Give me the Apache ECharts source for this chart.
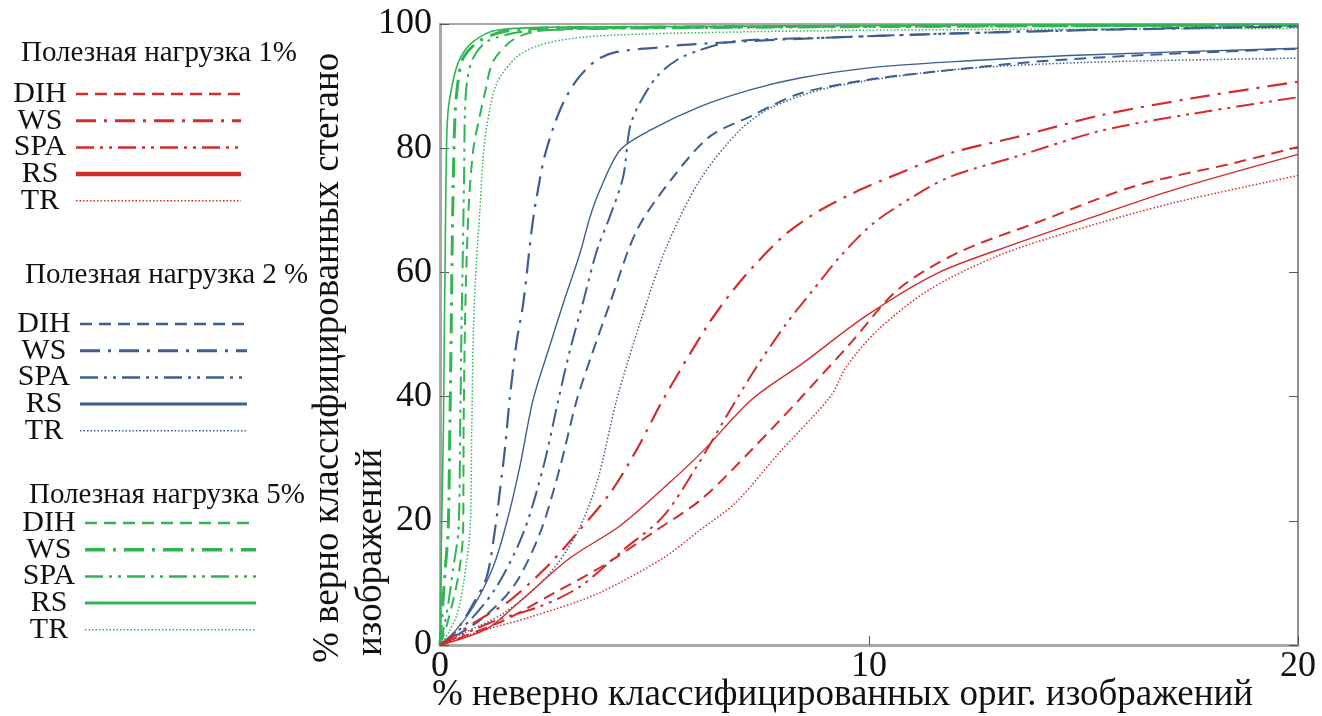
<!DOCTYPE html>
<html>
<head>
<meta charset="utf-8">
<script src="https://cdn.jsdelivr.net/npm/echarts@6/dist/echarts.min.js"></script>
<style>
html,body{margin:0;padding:0;background:#fff;}
#chart{width:1322px;height:716px;}
</style>
</head>
<body>
<div id="chart"></div>
<script>
// ---------- data ----------
const groupTitles = ['Полезная нагрузка 1%', 'Полезная нагрузка 2 %', 'Полезная нагрузка 5%'];
const methods = ['DIH', 'WS', 'SPA', 'RS', 'TR'];
const groupKeys = ['1%', '2%', '5%'];
const xAxisTitle = '% неверно классифицированных ориг. изображений';
const yAxisTitle = ['% верно классифицированных стегано', 'изображений'];
const xRange = [0, 20, 10];   // min, max, interval
const yRange = [0, 100, 20];

// payload 1% (red)
const red_DIH = [[0,0],[1.47,3.9],[2.64,8.3],[3.81,12.8],[5.05,18.5],[6.1,23.5],[7.26,31.4],[8.37,39.5],[9.57,48.6],[10.67,57.2],[12.05,63.1],[13.9,68],[16.2,73.9],[18.5,77.6],[20,80.2]];
const red_WS = [[0,0],[0.78,3.5],[1.63,7.2],[2.49,12.6],[3.19,18],[3.96,24.4],[4.58,31.4],[5.2,39.5],[6.22,51.3],[6.84,57.2],[7.38,61.5],[8.08,66.3],[8.86,70],[9.79,73.3],[10.72,76],[11.89,79.2],[13.45,81.8],[15.4,85.3],[17.5,88],[20,90.7]];
const red_SPA = [[0,0],[1.32,4],[2.33,6.2],[3.26,9.4],[4.27,15.3],[5.2,20.7],[5.98,28.7],[6.76,37.8],[7.4,45],[8.08,51.8],[8.7,57.2],[9.32,62.5],[10.1,67.9],[11.03,72.2],[11.89,75.4],[13.5,78.8],[15.4,82.8],[17.5,85.5],[20,88.2]];
const red_RS = [[0,0],[1.09,2.6],[1.86,7],[3.03,14],[4.2,19.2],[5.36,26.2],[6.14,31.3],[7.26,39.5],[8.46,45.4],[9.93,53],[11.6,59.9],[13.45,64.7],[15.3,69.1],[17.1,73.3],[20,79]];
const red_TR = [[0,0],[0.93,2.2],[2.1,4.5],[3.65,8.2],[5.2,14],[6.06,18.5],[6.89,22.9],[7.9,30.9],[9.11,40.1],[9.48,44.9],[10.2,50.7],[11.4,57.2],[12.98,62.6],[14.8,66.8],[17.1,71.2],[20,75.6]];

// payload 2% (blue)
const blue_DIH = [[0,0],[0.93,4],[1.71,9.4],[2.33,18],[2.8,28.7],[3.19,39.5],[3.55,47],[3.96,55],[4.59,66.8],[5.44,75.4],[6.29,81.9],[7.23,85.1],[8.39,88.8],[9.95,91],[11.5,92.3],[14,94],[17,95.2],[20,96]];
const blue_WS = [[0,0],[0.39,2.4],[0.78,6.7],[1.09,11],[1.28,18.5],[1.4,25],[1.52,32],[1.63,40],[1.79,49],[1.94,55],[2.14,67],[2.25,72],[2.45,79],[2.8,86.2],[3.19,91],[3.65,94.2],[4.12,95.5],[5.05,96.2],[5.6,96.6],[8,97.5],[10.7,98.2],[15,99],[20,99.6]];
const blue_SPA = [[0,0],[0.7,4],[1.32,9.4],[1.94,18],[2.41,28.7],[2.76,39.5],[3.03,47.5],[3.35,55.6],[3.66,63.6],[3.96,69],[4.27,75.4],[4.43,83.5],[4.66,87.3],[5.05,91.5],[5.52,94.2],[6.06,95.8],[6.83,97.2],[9,97.8],[12,98.5],[16,99.2],[20,99.6]];
const blue_RS = [[0,0],[0.31,1.9],[0.78,6.2],[1.24,12.6],[1.55,19.6],[1.86,28.7],[2.17,39.5],[2.55,48],[2.9,55.6],[3.26,63],[3.5,69],[3.73,73.3],[4.2,79.7],[4.9,82.9],[6.06,86.7],[7.23,89.4],[8.39,91.3],[9.95,92.9],[11.9,93.9],[15,95],[20,96.1]];
const blue_TR = [[0,0],[0.54,1.9],[1.48,5.1],[2.49,11],[3.19,18],[3.65,26],[4.12,39.5],[4.66,51.8],[5.28,64.1],[6.06,74.9],[6.99,82.9],[7.77,86.7],[9.17,89.9],[11.9,92.6],[15,93.8],[20,94.5]];

// payload 5% (green)
const green_DIH = [[0,0],[0.15,3],[0.3,7],[0.45,12],[0.54,18.5],[0.55,34.6],[0.58,50.7],[0.62,62],[0.68,72],[0.78,80],[0.93,85.3],[1.05,89],[1.24,94],[1.71,97.5],[2.33,98.9],[4,99.3],[10,99.6],[20,99.8]];
const green_WS = [[0,0],[0.05,5],[0.12,12],[0.19,18.5],[0.23,35],[0.26,50],[0.28,62],[0.31,75],[0.35,85.3],[0.42,90.7],[0.54,94.5],[0.9,97.2],[1.5,98.8],[3,99.4],[20,99.8]];
const green_SPA = [[0,0],[0.1,3],[0.2,7],[0.3,12],[0.43,18.5],[0.47,34.6],[0.5,50.7],[0.53,62],[0.56,75],[0.58,85.3],[0.63,90.7],[0.77,94.5],[1.1,97.2],[2,98.8],[5,99.3],[20,99.8]];
const green_RS = [[0,0],[0.02,10],[0.04,20],[0.08,35],[0.1,50],[0.12,62],[0.14,75],[0.18,85.3],[0.3,90.7],[0.47,94.5],[0.78,97.2],[1.32,99],[3,99.5],[20,100]];
const green_TR = [[0,0],[0.2,2],[0.4,5],[0.55,10],[0.7,18.5],[0.74,34.6],[0.78,50.7],[0.85,62],[0.93,70],[1.0,78],[1.09,83.5],[1.32,90.4],[1.79,94.7],[2.33,96.6],[3.1,97.7],[4.04,98.2],[6,98.6],[10,99],[20,99.3]];

const dataByGroup = [
  [red_DIH, red_WS, red_SPA, red_RS, red_TR],
  [blue_DIH, blue_WS, blue_SPA, blue_RS, blue_TR],
  [green_DIH, green_WS, green_SPA, green_RS, green_TR]
];

// ---------- styles ----------
const FONT = 'Liberation Serif';
const colors = ['#d42b2b', '#3d5e91', '#2fb552'];
const dashes = {
  DIH: [12, 7],
  WS: [20, 8, 3, 8],
  SPA: [18, 6, 3, 6, 3, 6],
  RS: 'solid',
  TR: [1.5, 2]
};
const chartWidths = [
  {DIH: 2, WS: 2.2, SPA: 2, RS: 1.4, TR: 1.5},
  {DIH: 2, WS: 2.2, SPA: 2, RS: 1.4, TR: 1.5},
  {DIH: 2, WS: 3, SPA: 2, RS: 1.6, TR: 1.5}
];
const legendWidths = [
  {DIH: 2.5, WS: 3, SPA: 2.5, RS: 4.5, TR: 1.6},
  {DIH: 2.5, WS: 3, SPA: 2.5, RS: 3, TR: 1.6},
  {DIH: 2.5, WS: 3.5, SPA: 2.5, RS: 3, TR: 1.6}
];
const legendPos = [
  {left: 4, top: 74, w: 165},
  {left: 8, top: 304, w: 167},
  {left: 13, top: 503, w: 171}
];
const titlePos = [
  {left: 16, top: 34},
  {left: 20, top: 256},
  {left: 24, top: 476}
];

const series = [];
const legends = [];
const titles = [];
groupKeys.forEach((g, gi) => {
  const names = [];
  methods.forEach((m, mi) => {
    const name = m + ' ' + g;
    names.push({name: name, lineStyle: {width: legendWidths[gi][m]}});
    series.push({
      name: name,
      type: 'line',
      data: dataByGroup[gi][mi],
      showSymbol: false,
      symbol: 'none',
      smooth: 0.3,
      color: colors[gi],
      lineStyle: {color: colors[gi], width: chartWidths[gi][m], type: dashes[m]},
      z: 3 - gi
    });
  });
  legends.push({
    left: legendPos[gi].left,
    top: legendPos[gi].top,
    orient: 'vertical',
    align: 'right',
    itemWidth: legendPos[gi].w,
    itemHeight: 14,
    itemGap: -3.3,
    selectedMode: false,
    itemStyle: {opacity: 0},
    data: names,
    formatter: n => '{t|' + n.split(' ')[0] + '}',
    textStyle: {
      fontFamily: FONT, fontSize: 30, color: '#111', lineHeight: 26, height: 26,
      rich: {t: {fontFamily: FONT, fontSize: 30, color: '#111', width: 62, align: 'center', lineHeight: 26, height: 26}}
    }
  });
  titles.push({
    text: groupTitles[gi],
    left: titlePos[gi].left,
    top: titlePos[gi].top,
    textStyle: {fontFamily: FONT, fontSize: 29, fontWeight: 'normal', color: '#111'}
  });
});

const chart = echarts.init(document.getElementById('chart'), null, {renderer: 'canvas'});
chart.setOption({
  animation: false,
  backgroundColor: '#fff',
  title: titles,
  legend: legends,
  grid: {left: 440, right: 24, top: 24, bottom: 71, show: true, borderColor: '#8a8a8a', borderWidth: 1.5, containLabel: false},
  xAxis: {
    type: 'value', min: xRange[0], max: xRange[1], interval: xRange[2],
    axisLine: {show: true, onZero: false, lineStyle: {color: '#a8a8a8', width: 3}},
    axisTick: {show: true, inside: true, length: 9, lineStyle: {color: '#555', width: 1}},
    splitLine: {show: false},
    axisLabel: {fontFamily: FONT, fontSize: 36, color: '#111', margin: 4}
  },
  yAxis: [{
    type: 'value', min: yRange[0], max: yRange[1], interval: yRange[2],
    axisLine: {show: true, onZero: false, lineStyle: {color: '#a8a8a8', width: 3}},
    axisTick: {show: true, inside: true, length: 9, lineStyle: {color: '#555', width: 1}},
    splitLine: {show: false},
    axisLabel: {fontFamily: FONT, fontSize: 36, color: '#111', margin: 8}
  }, {
    type: 'value', min: yRange[0], max: yRange[1], interval: yRange[2], position: 'right',
    axisLine: {show: true, onZero: false, lineStyle: {color: '#8a8a8a', width: 1.5}},
    axisTick: {show: true, inside: true, length: 9, lineStyle: {color: '#555', width: 1}},
    splitLine: {show: false},
    axisLabel: {show: false}
  }],
  graphic: [
    {type: 'text', x: 328, y: 663, rotation: Math.PI / 2,
     style: {text: yAxisTitle[0], font: '37px "Liberation Serif"', fill: '#111', align: 'left', verticalAlign: 'middle'}},
    {type: 'text', x: 371, y: 656, rotation: Math.PI / 2,
     style: {text: yAxisTitle[1], font: '37px "Liberation Serif"', fill: '#111', align: 'left', verticalAlign: 'middle'}},
    {type: 'text', x: 432, y: 695,
     style: {text: xAxisTitle, font: '37px "Liberation Serif"', fill: '#111', align: 'left', verticalAlign: 'middle'}}
  ],
  series: series
});
</script>
</body>
</html>
